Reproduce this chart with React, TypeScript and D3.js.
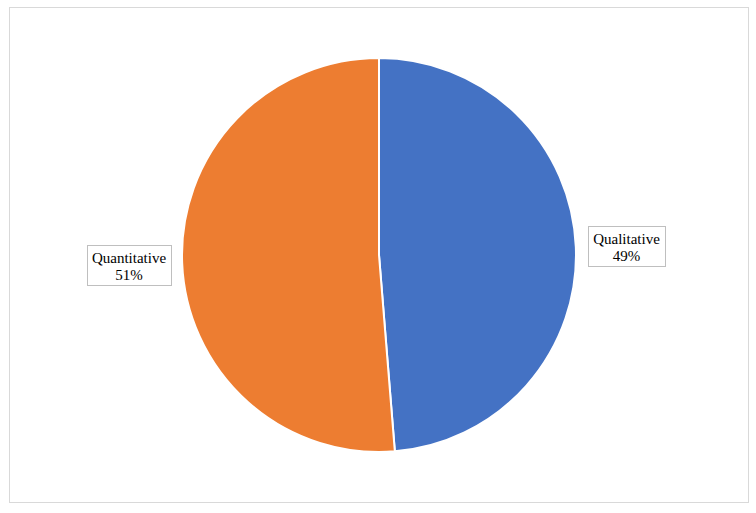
import React from "react";
import * as d3 from "d3";

const categories = ["Qualitative", "Quantitative"];
const values = [19, 20];
const colors = ["#4472C4", "#ED7D31"];

export default function App() {
  const width = 756;
  const height = 513;
  const cx = 379;
  const cy = 255;
  const r = 197;
  const total = d3.sum(values);
  const pie = d3.pie<number>().sort(null).value((d) => d)(values);
  const arc = d3.arc<d3.PieArcDatum<number>>().innerRadius(0).outerRadius(r);
  const boxes = [
    { x: 588, y: 226, w: 77, h: 40 },
    { x: 87, y: 245, w: 84, h: 40 },
  ];
  const font = "'Liberation Serif', 'Times New Roman', serif";
  return (
    <svg
      width={width}
      height={height}
      style={{ position: "absolute", left: 0, top: 0 }}
    >
      <rect x={0} y={0} width={width} height={height} fill="#fff" />
      <rect x={9.5} y={7.5} width={739} height={495} fill="#fff" stroke="#d9d9d9" strokeWidth={1} />
      <g transform={`translate(${cx},${cy})`}>
        {pie.map((p, i) => (
          <path key={i} d={arc(p) || ""} fill={colors[i]} stroke="#fff" strokeWidth={2} strokeLinejoin="round" />
        ))}
      </g>
      {categories.map((c, i) => {
        const b = boxes[i];
        const pct = Math.round((values[i] / total) * 100) + "%";
        const mx = b.x + b.w / 2;
        return (
          <g key={c}>
            <rect x={b.x + 0.5} y={b.y + 0.5} width={b.w} height={b.h} fill="#fff" stroke="#bfbfbf" strokeWidth={1} />
            <text x={mx} y={b.y + 18} textAnchor="middle" style={{ fontFamily: font, fontSize: "15px" }} fill="#000">
              {c}
            </text>
            <text x={mx} y={b.y + 35} textAnchor="middle" style={{ fontFamily: font, fontSize: "15px" }} fill="#000">
              {pct}
            </text>
          </g>
        );
      })}
    </svg>
  );
}
